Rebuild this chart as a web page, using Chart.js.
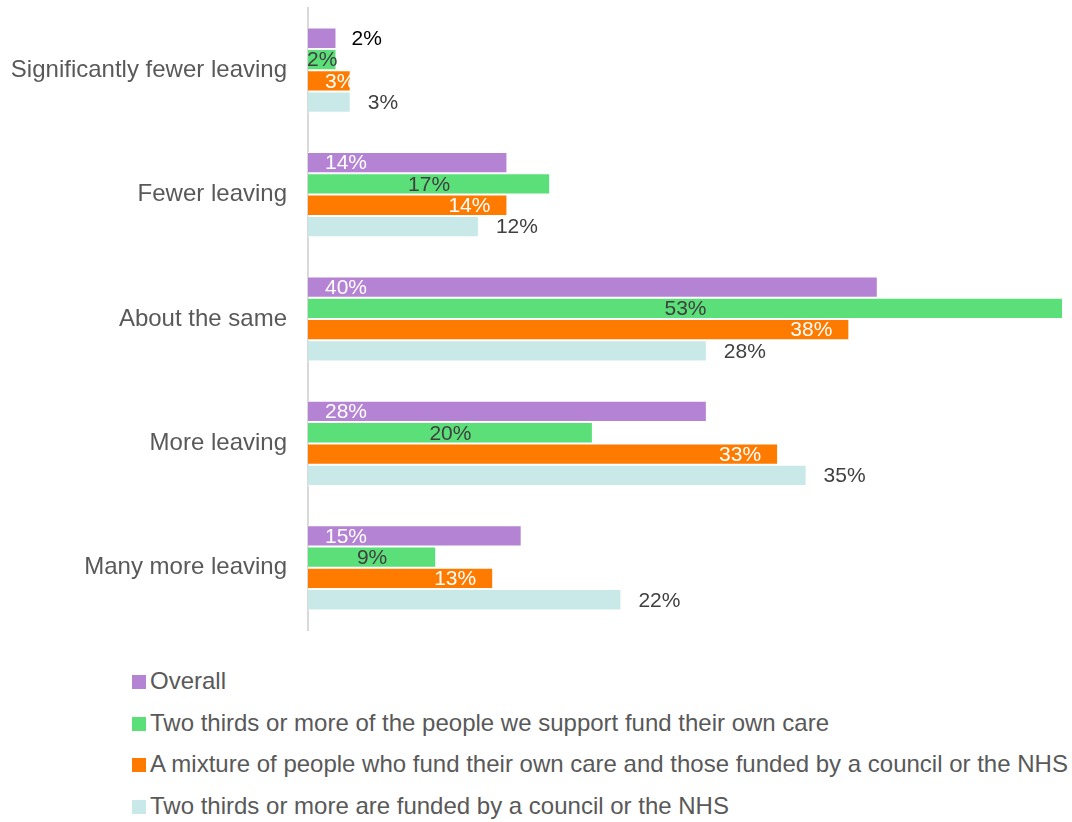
<!DOCTYPE html>
<html>
<head>
  <meta charset="utf-8">
  <title>Staff leaving</title>
  <script src="https://cdn.jsdelivr.net/npm/chart.js"></script>
  <style>
    html, body { margin: 0; padding: 0; background: #fff; }
    body { width: 1072px; height: 822px; position: relative; overflow: hidden;
           font-family: "Liberation Sans", Arial, sans-serif; }
    #wrap { position: absolute; left: 0; top: 0; width: 1072px; height: 640px; }
    #legend { position: absolute; left: 132px; top: 660px; color: #595959; font-size: 24px; }
    #legend div { height: 41.5px; line-height: 41.5px; white-space: nowrap; }
    #legend span { display: inline-block; width: 14px; height: 14px; margin-right: 4px; vertical-align: 0px; }
  </style>
</head>
<body>
  <div id="wrap"><canvas id="chart"></canvas></div>
  <div id="legend"></div>

  <script>
    const categories = [
      'Significantly fewer leaving',
      'Fewer leaving',
      'About the same',
      'More leaving',
      'Many more leaving'
    ];

    const seriesNames = [
      'Overall',
      'Two thirds or more of the people we support fund their own care',
      'A mixture of people who fund their own care and those funded by a council or the NHS',
      'Two thirds or more are funded by a council or the NHS'
    ];

    const overall = [2, 14, 40, 28, 15];
    const selfFunded = [2, 17, 53, 20, 9];
    const mixed = [3, 14, 38, 33, 13];
    const councilFunded = [3, 12, 28, 35, 22];

    const colors = ['#B583D4', '#5BDF78', '#FF7B00', '#C9E9E8'];
    // where each series puts its value label
    const labelModes = ['insideBase', 'center', 'insideEnd', 'outsideEnd'];

    const FONT = '"Liberation Sans", Arial, sans-serif';
    const PAD = 17;

    // value labels drawn next to / inside each bar
    const valueLabels = {
      id: 'valueLabels',
      afterDatasetsDraw(chart) {
        const ctx = chart.ctx;
        ctx.save();
        ctx.font = '21px ' + FONT;
        ctx.textBaseline = 'middle';
        ctx.textAlign = 'left';
        chart.data.datasets.forEach((ds, i) => {
          const meta = chart.getDatasetMeta(i);
          meta.data.forEach((bar, j) => {
            const text = ds.data[j] + '%';
            const w = ctx.measureText(text).width;
            const base = bar.base, end = bar.x;
            let x, color;
            const mode = labelModes[i];
            if (mode === 'insideBase') {
              if (base + PAD + w > end) {
                x = end + PAD - 2; color = '#000';
              } else {
                x = base + PAD; color = '#fff';
              }
            } else if (mode === 'center') {
              x = (base + end) / 2 - w / 2; color = '#404040';
            } else if (mode === 'insideEnd') {
              x = Math.max(end - PAD - w, base + PAD); color = '#fff';
            } else {
              x = end + PAD; color = '#404040';
            }
            ctx.fillStyle = color;
            ctx.fillText(text, x, bar.y + 1);
          });
        });
        ctx.restore();
      }
    };

    const seriesValues = [overall, selfFunded, mixed, councilFunded];

    new Chart(document.getElementById('chart'), {
      type: 'bar',
      data: {
        labels: categories,
        datasets: seriesValues.map((vals, i) => ({
          label: seriesNames[i],
          data: vals,
          backgroundColor: colors[i],
          borderColor: 'rgba(255,255,255,0.7)',
          borderWidth: 1,
          categoryPercentage: 0.685,
          barPercentage: 1
        }))
      },
      options: {
        indexAxis: 'y',
        responsive: true,
        maintainAspectRatio: false,
        animation: false,
        layout: { padding: { top: 8, bottom: 10, right: 9, left: 0 } },
        plugins: {
          legend: { display: false },
          tooltip: { enabled: false }
        },
        scales: {
          x: { display: false, min: 0, max: 53 },
          y: {
            grid: { display: false },
            border: { display: true, color: '#D9D9D9', width: 2 },
            ticks: { color: '#595959', font: { size: 24, family: FONT }, padding: 13 },
            afterFit(scale) {
              scale.width = 308;
              scale.paddingTop = 0;
              scale.paddingBottom = 0;
            }
          }
        }
      },
      plugins: [valueLabels]
    });

    // legend stacked one series per line
    const legend = document.getElementById('legend');
    seriesNames.forEach((name, i) => {
      const row = document.createElement('div');
      const box = document.createElement('span');
      box.style.background = colors[i];
      row.appendChild(box);
      row.appendChild(document.createTextNode(name));
      legend.appendChild(row);
    });
  </script>
</body>
</html>
